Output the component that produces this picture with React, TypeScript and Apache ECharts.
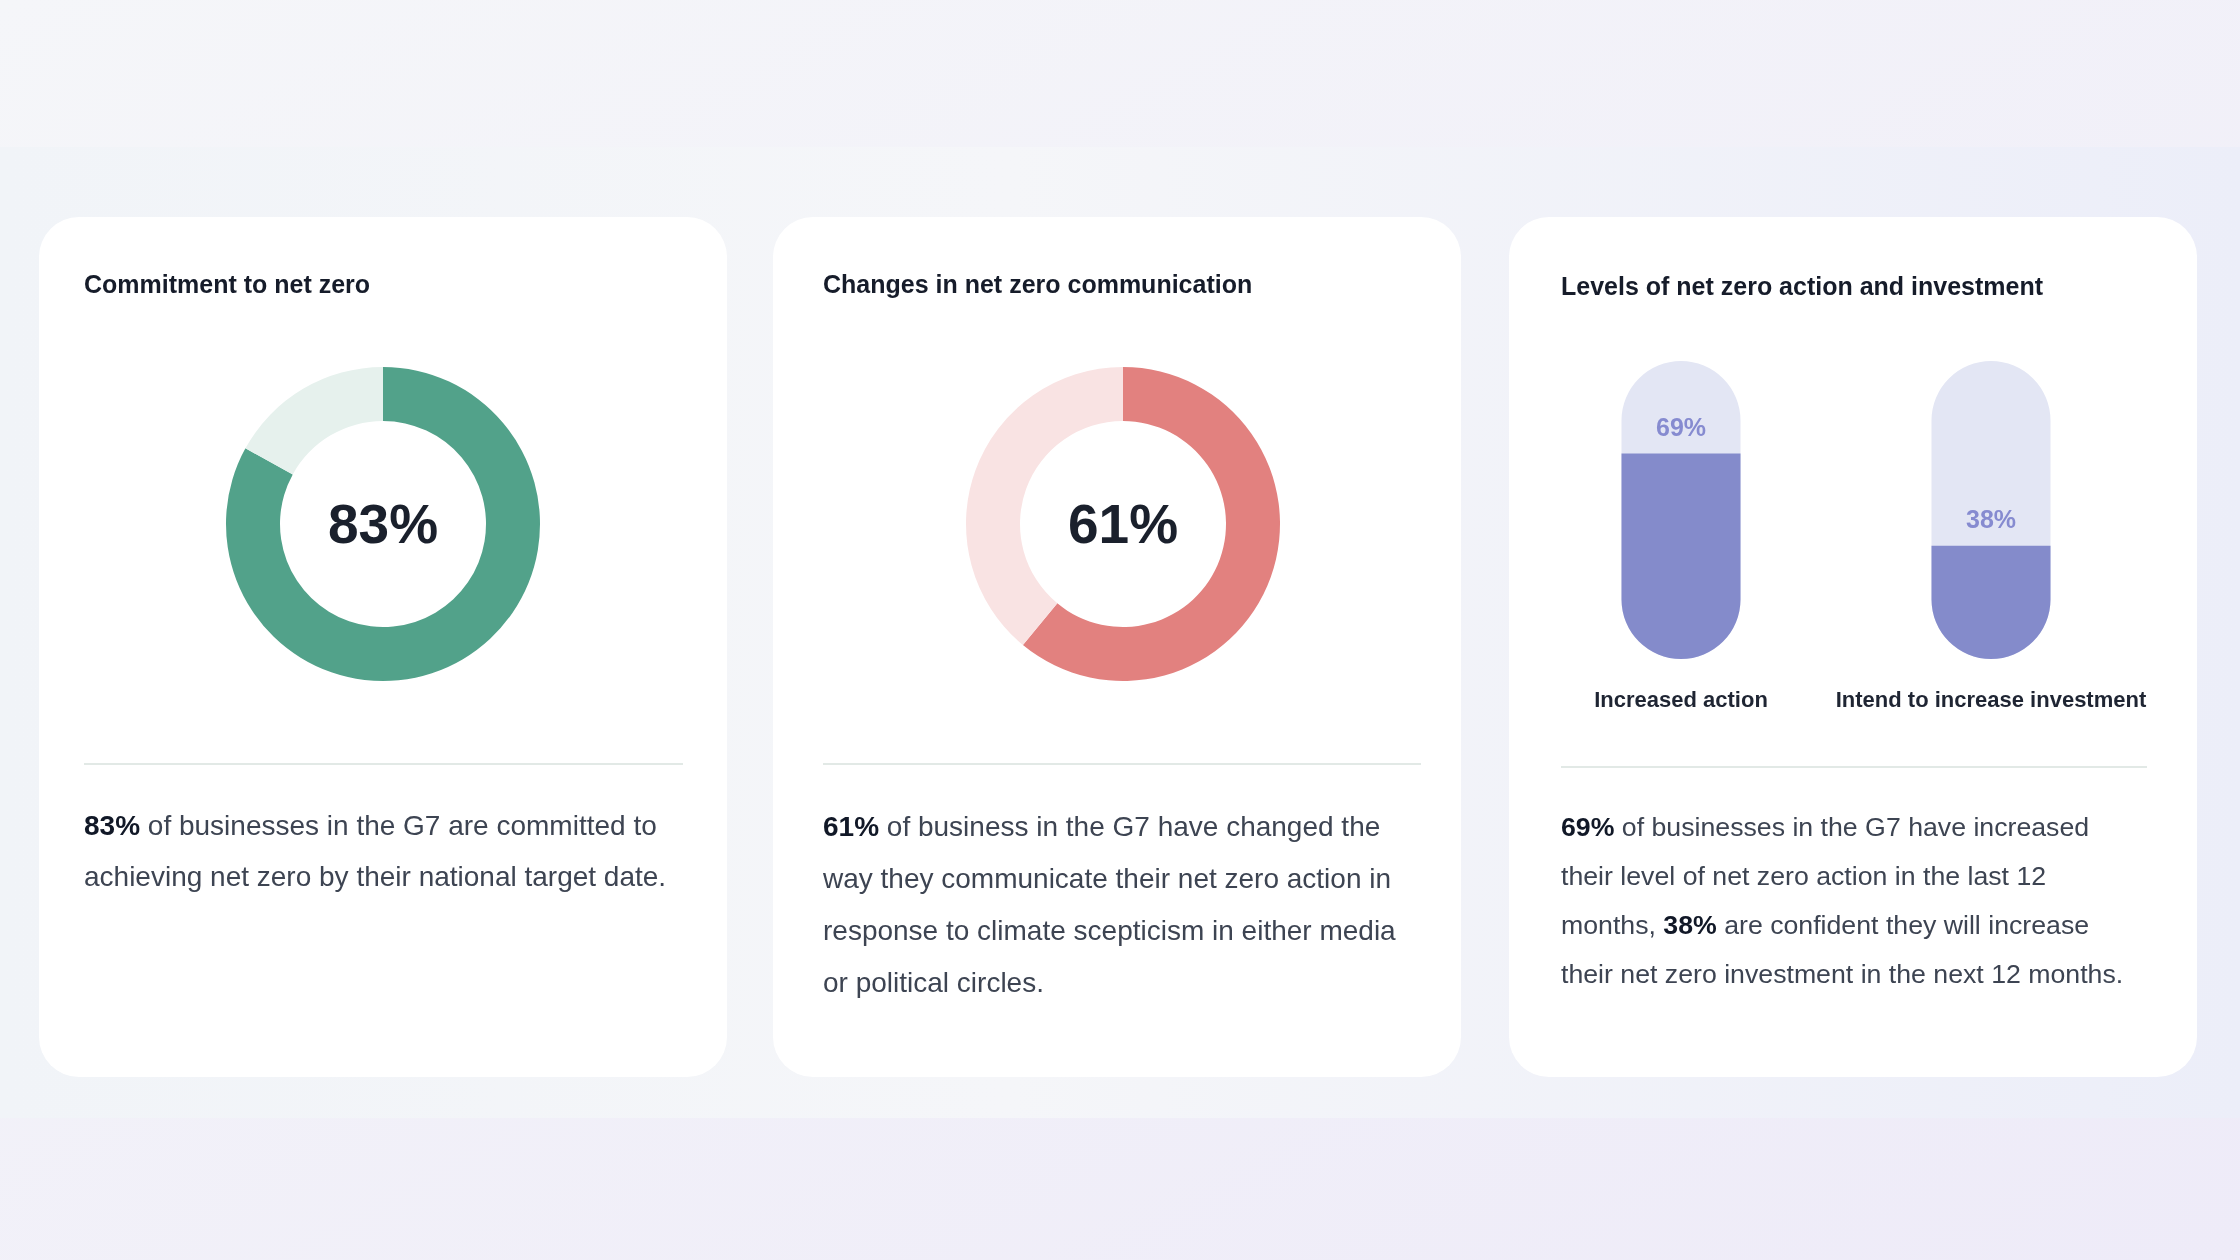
import React, { useEffect, useRef } from "react";
import * as echarts from "echarts";

// ---- data ----
const cardTitles = [
  "Commitment to net zero",
  "Changes in net zero communication",
  "Levels of net zero action and investment",
];
const donutNames = ["Commitment to net zero", "Changes in net zero communication"];
const donutValues = [83, 61];
const pillCategories = ["Increased action", "Intend to increase investment"];
const pillValues = [69, 38];
const bodyTexts = [
  "{b|83%} of businesses in the G7 are committed to\nachieving net zero by their national target date.",
  "{b|61%} of business in the G7 have changed the\nway they communicate their net zero action in\nresponse to climate scepticism in either media\nor political circles.",
  "{b|69%} of businesses in the G7 have increased\ntheir level of net zero action in the last 12\nmonths, {b|38%} are confident they will increase\ntheir net zero investment in the next 12 months.",
];

// ---- layout / style ----
const W = 2240;
const H = 1260;
const FONT = "'Liberation Sans', Arial, Helvetica, sans-serif";
const cardX = [39, 773, 1509];
const cardY = 217;
const cardW = 688;
const cardH = 860;
const titleX = [84, 823, 1561];
const titleY = [284, 284, 286];
const dividerY = [764, 764, 767];
const dividerX = [
  [84, 683],
  [823, 1421],
  [1561, 2147],
];
const bodyTop = [800, 800, 802];
const bodyLH = [51, 52, 49];
const bodyFS = [28, 28, 26.7];
const donutCenters = [
  [383, 524],
  [1123, 524],
];
const donutColors = [
  ["#52a28a", "#e6f1ed"],
  ["#e2817f", "#f9e3e3"],
];
const titleColor = "#161c2a";
const bodyColor = "#3d4452";
const boldColor = "#111827";
const purple = "#848bcb";
const purpleLight = "#e3e6f4";
const purpleLabel = "#868bd0";

export default function App() {
  const ref = useRef<HTMLDivElement>(null);

  useEffect(() => {
    if (!ref.current) return;
    const chart = echarts.init(ref.current, null, { renderer: "svg", width: W, height: H });

    const graphics: any[] = [];
    graphics.push({
      type: "rect",
      shape: { x: 0, y: 0, width: W, height: H },
      style: {
        fill: new echarts.graphic.LinearGradient(0, 0, 1, 1, [
          { offset: 0, color: "#f5f6f9" },
          { offset: 1, color: "#eeebf8" },
        ]),
      },
      z: -100,
      silent: true,
    });
    graphics.push({
      type: "rect",
      shape: { x: 0, y: 147, width: W, height: 971 },
      style: {
        fill: new echarts.graphic.LinearGradient(0, 0, 1, 0, [
          { offset: 0, color: "#f1f4f8" },
          { offset: 0.45, color: "#f5f6f9" },
          { offset: 1, color: "#eceef9" },
        ]),
      },
      z: -99,
      silent: true,
    });
    cardX.forEach((x, i) => {
      graphics.push({
        type: "rect",
        shape: { x, y: cardY, width: cardW, height: cardH, r: 40 },
        style: { fill: "#ffffff" },
        z: -50,
        silent: true,
      });
      graphics.push({
        type: "text",
        x: titleX[i],
        y: titleY[i],
        style: {
          text: cardTitles[i],
          fill: titleColor,
          fontSize: 25,
          fontWeight: "bold",
          fontFamily: FONT,
          verticalAlign: "middle",
          align: "left",
        },
        silent: true,
      });
      graphics.push({
        type: "line",
        shape: { x1: dividerX[i][0], y1: dividerY[i], x2: dividerX[i][1], y2: dividerY[i] },
        style: { stroke: "#e2e9e6", lineWidth: 2 },
        silent: true,
      });
      graphics.push({
        type: "text",
        x: titleX[i],
        y: bodyTop[i],
        style: {
          text: bodyTexts[i],
          fill: bodyColor,
          fontSize: bodyFS[i],
          fontFamily: FONT,
          lineHeight: bodyLH[i],
          verticalAlign: "top",
          align: "left",
          rich: {
            b: {
              fill: boldColor,
              fontWeight: "bold",
              fontSize: bodyFS[i],
              fontFamily: FONT,
              lineHeight: bodyLH[i],
            },
          },
        },
        silent: true,
      });
    });

    const pieSeries = donutValues.map((v, i) => ({
      type: "pie",
      name: donutNames[i],
      center: donutCenters[i],
      radius: [103, 157],
      startAngle: 90,
      clockwise: true,
      silent: true,
      emphasis: { disabled: true },
      label: { show: false },
      labelLine: { show: false },
      data: [
        {
          value: v,
          name: "yes",
          itemStyle: { color: donutColors[i][0] },
          label: {
            show: true,
            position: "center",
            formatter: "{c}%",
            fontSize: 55,
            fontWeight: "bold",
            fontFamily: FONT,
            color: "#1a202c",
          },
        },
        { value: 100 - v, name: "no", itemStyle: { color: donutColors[i][1] } },
      ],
    }));

    chart.setOption({
      animation: false,
      backgroundColor: "transparent",
      graphic: { elements: graphics },
      grid: { left: 1526, top: 361, width: 620, height: 298, containLabel: false },
      xAxis: {
        type: "category",
        data: pillCategories,
        axisLine: { show: false },
        axisTick: { show: false },
        splitLine: { show: false },
        axisLabel: {
          interval: 0,
          margin: 29,
          fontSize: 22,
          fontWeight: "bold",
          fontFamily: FONT,
          color: "#1f2533",
        },
      },
      yAxis: {
        type: "value",
        min: 0,
        max: 100,
        show: false,
      },
      series: [
        ...pieSeries,
        {
          type: "bar",
          data: pillValues,
          barWidth: 119,
          silent: true,
          emphasis: { disabled: true },
          showBackground: true,
          backgroundStyle: { color: purpleLight, borderRadius: 59.5 },
          itemStyle: { color: purple, borderRadius: [0, 0, 59.5, 59.5] },
          label: {
            show: true,
            position: "top",
            distance: 14,
            formatter: "{c}%",
            fontSize: 25,
            fontWeight: "bold",
            fontFamily: FONT,
            color: purpleLabel,
          },
        },
      ],
    });

    return () => {
      chart.dispose();
    };
  }, []);

  return (
    <div
      ref={ref}
      style={{ position: "fixed", left: 0, top: 0, width: W, height: H }}
    />
  );
}
